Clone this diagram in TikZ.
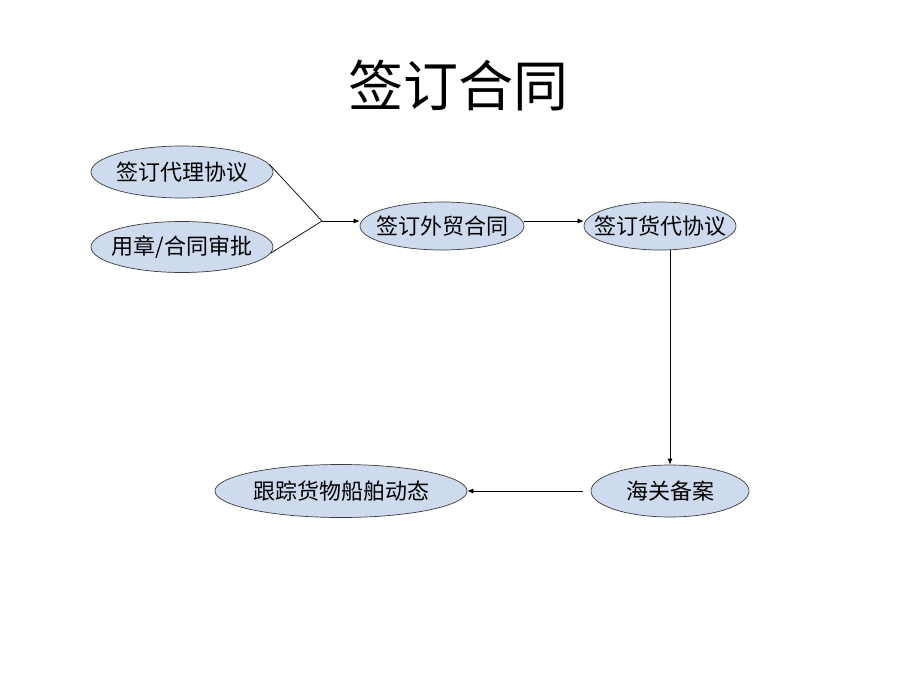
\documentclass[tikz,border=0pt]{standalone}
\usepackage{fontspec}
\setmainfont{Noto Sans CJK SC}
\usetikzlibrary{shapes.geometric,arrows.meta}
\definecolor{nodefill}{RGB}{206,218,238}
\definecolor{nodeline}{RGB}{60,60,60}
\tikzset{
  oval/.style={ellipse, draw=nodeline, line width=0.7pt, fill=nodefill, inner xsep=-16pt, inner ysep=0pt,
    font=\fontsize{22}{26}\selectfont},
  conn/.style={line width=0.7pt, draw=black},
  arr/.style={conn, -{Latex[length=6pt,width=5pt]}}
}
\begin{document}
\begin{tikzpicture}[x=1pt,y=-1pt]
\useasboundingbox (0,0) rectangle (920,690);
\node[font=\fontsize{55}{60}\selectfont] (title) at (458,86) {签订合同};
\node[oval, minimum width=182pt, minimum height=52pt] (daili) at (182,172) {签订代理协议};
\node[oval, minimum width=182pt, minimum height=51pt] (shenpi) at (182,247) {用章/合同审批};
\node[oval, minimum width=164pt, minimum height=48pt] (waimao) at (442,226) {签订外贸合同};
\node[oval, minimum width=152pt, minimum height=48pt] (huodai) at (660,226) {签订货代协议};
\node[oval, minimum width=158pt, minimum height=52pt] (haiguan) at (670,491) {海关备案};
\node[oval, minimum width=252pt, minimum height=53pt] (genzong) at (341,491) {跟踪货物船舶动态};
\coordinate (j) at (322,221);
\draw[conn] (daili.5) -- (j);
\draw[conn] (shenpi.-4) -- (j);
\draw[arr] (j) -- (j -| waimao.west);
\draw[arr] (waimao.east |- j) -- (huodai.west |- j);
\draw[arr] (haiguan.north |- huodai.south) -- (haiguan.north);
\draw[arr] ([xshift=-8pt]haiguan.west) -- (genzong.east);
\end{tikzpicture}
\end{document}
